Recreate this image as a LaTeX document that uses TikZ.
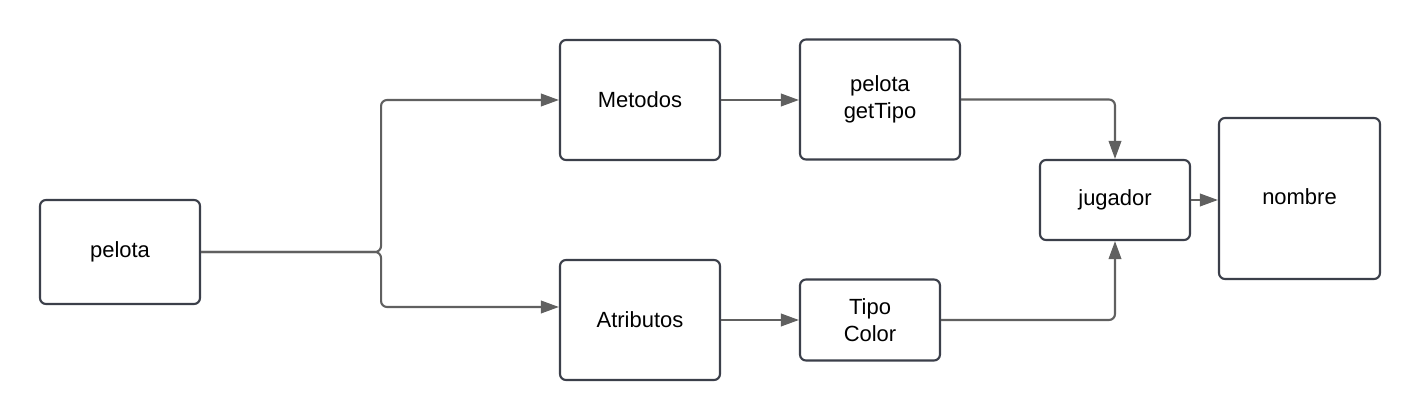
\documentclass[tikz,border=0pt]{standalone}
\usepackage{fontspec}
\setmainfont{Liberation Sans}
\usepackage{xcolor}
\usepackage{tikz}
\usetikzlibrary{positioning,calc,arrows.meta}

\definecolor{boxline}{HTML}{3B3F4A}
\definecolor{connline}{HTML}{606060}

\begin{document}
\begin{tikzpicture}[
    box/.style={draw=boxline, line width=1.2pt, rounded corners=0.12cm, fill=white,
        inner sep=0pt, align=center, font=\fontsize{12.5pt}{15pt}\selectfont},
    conn/.style={draw=connline, line width=1.2pt, rounded corners=0.12cm,
        -{Triangle[length=0.36cm, width=0.25cm]}}
]
    \useasboundingbox (0,0) rectangle (28.4,8.4);

    % Boxes
    \node[box, minimum width=3.2cm, minimum height=2.08cm] (pelota) at (2.4,3.36) {pelota};
    \node[box, minimum width=3.2cm, minimum height=2.4cm] (metodos) at (12.8,6.4) {Metodos};
    \node[box, minimum width=3.2cm, minimum height=2.4cm] (gettipo) at (17.6,6.41) {pelota\\getTipo};
    \node[box, minimum width=3.2cm, minimum height=2.4cm] (atributos) at (12.8,2.0) {Atributos};
    \node[box, minimum width=2.8cm, minimum height=1.62cm] (tipocolor) at (17.4,2.0) {Tipo\\Color};
    \node[box, minimum width=3.0cm, minimum height=1.6cm] (jugador) at (22.3,4.4) {jugador};
    \node[box, minimum width=3.22cm, minimum height=3.22cm] (nombre) at (25.99,4.43) {\raisebox{0.07cm}{nombre}};

    % Connectors
    \coordinate (split) at ($(pelota.east)+(3.6,0)$);
    \draw[conn] (pelota.east) -- (split) |- (metodos.west);
    \draw[conn] (pelota.east) -- (split) |- ([yshift=0.26cm]atributos.west);
    \draw[conn] (metodos.east) -- (metodos.east -| gettipo.west);
    \draw[conn] (atributos.east) -- (tipocolor.west);
    \draw[conn] (gettipo.east) -| (jugador.north);
    \draw[conn] (tipocolor.east) -| (jugador.south);
    \draw[conn] (jugador.east) -- (jugador.east -| nombre.west);
\end{tikzpicture}
\end{document}
